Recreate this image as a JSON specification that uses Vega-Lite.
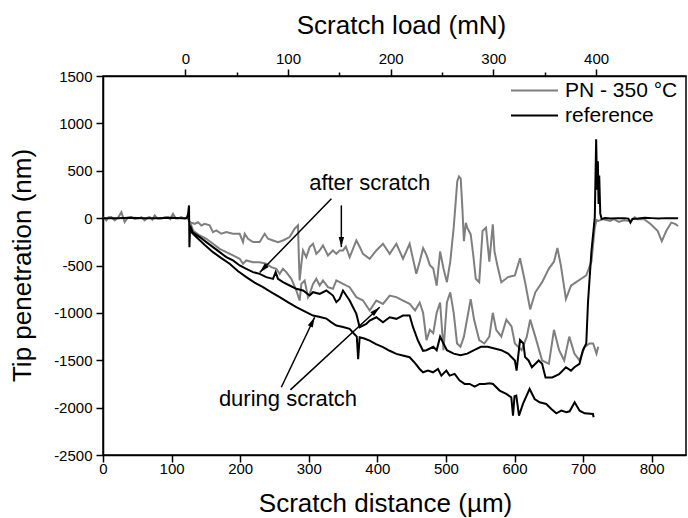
{
  "$schema": "https://vega.github.io/schema/vega-lite/v6.json",
  "width": 583,
  "height": 379,
  "autosize": {"type": "none"},
  "padding": {"left": 103, "top": 76, "right": 2, "bottom": 63},
  "background": "white",
  "config": {
    "view": {"stroke": "black", "strokeWidth": 1.5},
    "font": "Liberation Sans",
    "axis": {
      "domainColor": "black", "domainWidth": 1.5, "tickColor": "black", "tickWidth": 1.5,
      "labelColor": "black", "titleColor": "black", "labelFont": "Liberation Sans", "titleFont": "Liberation Sans",
      "titleFontWeight": "normal", "labelFontSize": 15, "titleFontSize": 26, "grid": false
    }
  },
  "layer": [
    {
      "layer": [
        {
          "data": {"values": [
            {"s":"PN - 350 °C","k":"after","d":0,"p":10},{"s":"PN - 350 °C","k":"after","d":4.9,"p":-24},{"s":"PN - 350 °C","k":"after","d":8,"p":10},{"s":"PN - 350 °C","k":"after","d":12.2,"p":11},{"s":"PN - 350 °C","k":"after","d":17,"p":-24},{"s":"PN - 350 °C","k":"after","d":22,"p":5},{"s":"PN - 350 °C","k":"after","d":26.8,"p":63},{"s":"PN - 350 °C","k":"after","d":31.6,"p":-42},{"s":"PN - 350 °C","k":"after","d":36,"p":5},{"s":"PN - 350 °C","k":"after","d":41.3,"p":11},{"s":"PN - 350 °C","k":"after","d":46,"p":-10},{"s":"PN - 350 °C","k":"after","d":51.1,"p":-5},{"s":"PN - 350 °C","k":"after","d":56,"p":10},{"s":"PN - 350 °C","k":"after","d":60.8,"p":-24},{"s":"PN - 350 °C","k":"after","d":65,"p":5},{"s":"PN - 350 °C","k":"after","d":68.1,"p":11},{"s":"PN - 350 °C","k":"after","d":72,"p":-15},{"s":"PN - 350 °C","k":"after","d":75.4,"p":28},{"s":"PN - 350 °C","k":"after","d":80,"p":-5},{"s":"PN - 350 °C","k":"after","d":85.1,"p":-5},{"s":"PN - 350 °C","k":"after","d":90,"p":10},{"s":"PN - 350 °C","k":"after","d":94.8,"p":11},{"s":"PN - 350 °C","k":"after","d":98,"p":-10},{"s":"PN - 350 °C","k":"after","d":102.1,"p":46},{"s":"PN - 350 °C","k":"after","d":106,"p":-5},{"s":"PN - 350 °C","k":"after","d":109.4,"p":-5},{"s":"PN - 350 °C","k":"after","d":114,"p":10},{"s":"PN - 350 °C","k":"after","d":119.1,"p":-5},{"s":"PN - 350 °C","k":"after","d":123,"p":5},{"s":"PN - 350 °C","k":"after","d":126.4,"p":-42},
            {"s":"PN - 350 °C","k":"after","d":133.7,"p":-60},{"s":"PN - 350 °C","k":"after","d":138.5,"p":-42},{"s":"PN - 350 °C","k":"after","d":143.4,"p":-77},{"s":"PN - 350 °C","k":"after","d":148.2,"p":-60},{"s":"PN - 350 °C","k":"after","d":155.5,"p":-77},{"s":"PN - 350 °C","k":"after","d":160.4,"p":-148},{"s":"PN - 350 °C","k":"after","d":165.3,"p":-130},{"s":"PN - 350 °C","k":"after","d":172.5,"p":-165},{"s":"PN - 350 °C","k":"after","d":179.8,"p":-148},{"s":"PN - 350 °C","k":"after","d":189.5,"p":-165},{"s":"PN - 350 °C","k":"after","d":199.3,"p":-165},{"s":"PN - 350 °C","k":"after","d":204.1,"p":-253},{"s":"PN - 350 °C","k":"after","d":206.6,"p":-165},{"s":"PN - 350 °C","k":"after","d":211.4,"p":-218},{"s":"PN - 350 °C","k":"after","d":218.7,"p":-253},{"s":"PN - 350 °C","k":"after","d":228.4,"p":-253},{"s":"PN - 350 °C","k":"after","d":235.7,"p":-165},{"s":"PN - 350 °C","k":"after","d":240.6,"p":-218},{"s":"PN - 350 °C","k":"after","d":247.9,"p":-236},{"s":"PN - 350 °C","k":"after","d":255.1,"p":-253},{"s":"PN - 350 °C","k":"after","d":262.4,"p":-236},{"s":"PN - 350 °C","k":"after","d":272.1,"p":-200},{"s":"PN - 350 °C","k":"after","d":279.4,"p":-112},{"s":"PN - 350 °C","k":"after","d":284.3,"p":-77},{"s":"PN - 350 °C","k":"after","d":285.5,"p":-400},{"s":"PN - 350 °C","k":"after","d":286.7,"p":-658},{"s":"PN - 350 °C","k":"after","d":289.2,"p":-482},{"s":"PN - 350 °C","k":"after","d":291.6,"p":-341},{"s":"PN - 350 °C","k":"after","d":296.4,"p":-412},{"s":"PN - 350 °C","k":"after","d":301.3,"p":-306},{"s":"PN - 350 °C","k":"after","d":306.2,"p":-271},{"s":"PN - 350 °C","k":"after","d":311,"p":-377},{"s":"PN - 350 °C","k":"after","d":315.9,"p":-341},{"s":"PN - 350 °C","k":"after","d":320.7,"p":-288},{"s":"PN - 350 °C","k":"after","d":328,"p":-394},{"s":"PN - 350 °C","k":"after","d":335.3,"p":-341},{"s":"PN - 350 °C","k":"after","d":340.2,"p":-377},{"s":"PN - 350 °C","k":"after","d":345,"p":-341},{"s":"PN - 350 °C","k":"after","d":349.9,"p":-341},{"s":"PN - 350 °C","k":"after","d":354,"p":-300},{"s":"PN - 350 °C","k":"after","d":359.6,"p":-412},{"s":"PN - 350 °C","k":"after","d":369.4,"p":-236},{"s":"PN - 350 °C","k":"after","d":374,"p":-300},{"s":"PN - 350 °C","k":"after","d":379.1,"p":-377},{"s":"PN - 350 °C","k":"after","d":388.8,"p":-429},{"s":"PN - 350 °C","k":"after","d":398.5,"p":-341},{"s":"PN - 350 °C","k":"after","d":408.2,"p":-271},{"s":"PN - 350 °C","k":"after","d":418,"p":-377},{"s":"PN - 350 °C","k":"after","d":427.7,"p":-271},{"s":"PN - 350 °C","k":"after","d":437.4,"p":-429},{"s":"PN - 350 °C","k":"after","d":447.1,"p":-271},{"s":"PN - 350 °C","k":"after","d":456.8,"p":-588},{"s":"PN - 350 °C","k":"after","d":461.7,"p":-460},{"s":"PN - 350 °C","k":"after","d":466.7,"p":-316},{"s":"PN - 350 °C","k":"after","d":471.6,"p":-388},{"s":"PN - 350 °C","k":"after","d":476.6,"p":-496},{"s":"PN - 350 °C","k":"after","d":481.5,"p":-532},{"s":"PN - 350 °C","k":"after","d":486.5,"p":-712},{"s":"PN - 350 °C","k":"after","d":491.5,"p":-352},{"s":"PN - 350 °C","k":"after","d":496.4,"p":-532},{"s":"PN - 350 °C","k":"after","d":501.4,"p":-676},{"s":"PN - 350 °C","k":"after","d":506.3,"p":-460},{"s":"PN - 350 °C","k":"after","d":511.3,"p":-101},{"s":"PN - 350 °C","k":"after","d":514,"p":150},{"s":"PN - 350 °C","k":"after","d":516.5,"p":390},{"s":"PN - 350 °C","k":"after","d":519,"p":440},{"s":"PN - 350 °C","k":"after","d":521.5,"p":420},{"s":"PN - 350 °C","k":"after","d":524,"p":100},{"s":"PN - 350 °C","k":"after","d":526.2,"p":-244},{"s":"PN - 350 °C","k":"after","d":529,"p":-50},{"s":"PN - 350 °C","k":"after","d":531,"p":-100},{"s":"PN - 350 °C","k":"after","d":536.1,"p":-172},{"s":"PN - 350 °C","k":"after","d":540,"p":-400},{"s":"PN - 350 °C","k":"after","d":543.5,"p":-640},{"s":"PN - 350 °C","k":"after","d":548.5,"p":-676},{"s":"PN - 350 °C","k":"after","d":553.4,"p":-136},{"s":"PN - 350 °C","k":"after","d":558.4,"p":-101},{"s":"PN - 350 °C","k":"after","d":563.3,"p":-460},{"s":"PN - 350 °C","k":"after","d":568.3,"p":-65},{"s":"PN - 350 °C","k":"after","d":570.8,"p":-352},{"s":"PN - 350 °C","k":"after","d":575,"p":-500},{"s":"PN - 350 °C","k":"after","d":580.7,"p":-676},{"s":"PN - 350 °C","k":"after","d":590.6,"p":-622},{"s":"PN - 350 °C","k":"after","d":600.5,"p":-604},{"s":"PN - 350 °C","k":"after","d":608,"p":-424},{"s":"PN - 350 °C","k":"after","d":615.4,"p":-676},{"s":"PN - 350 °C","k":"after","d":622.8,"p":-963},{"s":"PN - 350 °C","k":"after","d":630.3,"p":-783},{"s":"PN - 350 °C","k":"after","d":640.2,"p":-676},{"s":"PN - 350 °C","k":"after","d":650.1,"p":-532},{"s":"PN - 350 °C","k":"after","d":657.5,"p":-460},{"s":"PN - 350 °C","k":"after","d":662.5,"p":-316},{"s":"PN - 350 °C","k":"after","d":667.5,"p":-496},{"s":"PN - 350 °C","k":"after","d":674.9,"p":-855},{"s":"PN - 350 °C","k":"after","d":682.3,"p":-712},{"s":"PN - 350 °C","k":"after","d":689.8,"p":-676},{"s":"PN - 350 °C","k":"after","d":697.2,"p":-640},{"s":"PN - 350 °C","k":"after","d":704.6,"p":-604},{"s":"PN - 350 °C","k":"after","d":712.1,"p":-460},{"s":"PN - 350 °C","k":"after","d":717,"p":-101},{"s":"PN - 350 °C","k":"after","d":719.5,"p":-20},{"s":"PN - 350 °C","k":"after","d":722,"p":-29},{"s":"PN - 350 °C","k":"after","d":729.4,"p":-11},{"s":"PN - 350 °C","k":"after","d":739.3,"p":-29},{"s":"PN - 350 °C","k":"after","d":745,"p":-10},{"s":"PN - 350 °C","k":"after","d":752,"p":-40},{"s":"PN - 350 °C","k":"after","d":759.2,"p":-22},{"s":"PN - 350 °C","k":"after","d":769.1,"p":-29},{"s":"PN - 350 °C","k":"after","d":775,"p":10},{"s":"PN - 350 °C","k":"after","d":779,"p":-11},{"s":"PN - 350 °C","k":"after","d":789,"p":-11},{"s":"PN - 350 °C","k":"after","d":798.8,"p":-65},{"s":"PN - 350 °C","k":"after","d":808.8,"p":-136},{"s":"PN - 350 °C","k":"after","d":814.7,"p":-244},{"s":"PN - 350 °C","k":"after","d":821.2,"p":-136},{"s":"PN - 350 °C","k":"after","d":828.6,"p":-47},{"s":"PN - 350 °C","k":"after","d":834,"p":-60},{"s":"PN - 350 °C","k":"after","d":838.5,"p":-83},
            {"s":"PN - 350 °C","k":"during","d":126.4,"p":-30},{"s":"PN - 350 °C","k":"during","d":131.2,"p":-130},{"s":"PN - 350 °C","k":"during","d":141,"p":-183},{"s":"PN - 350 °C","k":"during","d":150.7,"p":-218},{"s":"PN - 350 °C","k":"during","d":160.4,"p":-271},{"s":"PN - 350 °C","k":"during","d":170.1,"p":-324},{"s":"PN - 350 °C","k":"during","d":179.8,"p":-359},{"s":"PN - 350 °C","k":"during","d":189.5,"p":-394},{"s":"PN - 350 °C","k":"during","d":199.3,"p":-429},{"s":"PN - 350 °C","k":"during","d":204.1,"p":-482},{"s":"PN - 350 °C","k":"during","d":209,"p":-447},{"s":"PN - 350 °C","k":"during","d":218.7,"p":-465},{"s":"PN - 350 °C","k":"during","d":228.4,"p":-465},{"s":"PN - 350 °C","k":"during","d":238.1,"p":-482},{"s":"PN - 350 °C","k":"during","d":245.4,"p":-517},{"s":"PN - 350 °C","k":"during","d":252.7,"p":-535},{"s":"PN - 350 °C","k":"during","d":257.6,"p":-588},{"s":"PN - 350 °C","k":"during","d":262.4,"p":-535},{"s":"PN - 350 °C","k":"during","d":267.3,"p":-570},{"s":"PN - 350 °C","k":"during","d":274.6,"p":-641},{"s":"PN - 350 °C","k":"during","d":281.9,"p":-764},{"s":"PN - 350 °C","k":"during","d":286.7,"p":-870},{"s":"PN - 350 °C","k":"during","d":289.2,"p":-694},{"s":"PN - 350 °C","k":"during","d":294,"p":-658},{"s":"PN - 350 °C","k":"during","d":298.9,"p":-834},{"s":"PN - 350 °C","k":"during","d":301.3,"p":-799},{"s":"PN - 350 °C","k":"during","d":306.2,"p":-694},{"s":"PN - 350 °C","k":"during","d":311,"p":-641},{"s":"PN - 350 °C","k":"during","d":315.9,"p":-711},{"s":"PN - 350 °C","k":"during","d":320.7,"p":-658},{"s":"PN - 350 °C","k":"during","d":328,"p":-729},{"s":"PN - 350 °C","k":"during","d":335.3,"p":-746},{"s":"PN - 350 °C","k":"during","d":340.2,"p":-658},{"s":"PN - 350 °C","k":"during","d":345,"p":-676},{"s":"PN - 350 °C","k":"during","d":349.9,"p":-694},{"s":"PN - 350 °C","k":"during","d":359.6,"p":-729},{"s":"PN - 350 °C","k":"during","d":369.4,"p":-834},{"s":"PN - 350 °C","k":"during","d":379.1,"p":-870},{"s":"PN - 350 °C","k":"during","d":388.8,"p":-975},{"s":"PN - 350 °C","k":"during","d":398.5,"p":-870},{"s":"PN - 350 °C","k":"during","d":408.2,"p":-905},{"s":"PN - 350 °C","k":"during","d":418,"p":-817},{"s":"PN - 350 °C","k":"during","d":427.7,"p":-834},{"s":"PN - 350 °C","k":"during","d":437.4,"p":-870},{"s":"PN - 350 °C","k":"during","d":447.1,"p":-905},{"s":"PN - 350 °C","k":"during","d":455,"p":-975},{"s":"PN - 350 °C","k":"during","d":461.7,"p":-891},{"s":"PN - 350 °C","k":"during","d":466.7,"p":-999},{"s":"PN - 350 °C","k":"during","d":471.6,"p":-1287},{"s":"PN - 350 °C","k":"during","d":476.6,"p":-1179},{"s":"PN - 350 °C","k":"during","d":481.5,"p":-1215},{"s":"PN - 350 °C","k":"during","d":486.5,"p":-999},{"s":"PN - 350 °C","k":"during","d":491.5,"p":-891},{"s":"PN - 350 °C","k":"during","d":496.4,"p":-1394},{"s":"PN - 350 °C","k":"during","d":501.4,"p":-891},{"s":"PN - 350 °C","k":"during","d":506.3,"p":-783},{"s":"PN - 350 °C","k":"during","d":511.3,"p":-999},{"s":"PN - 350 °C","k":"during","d":516.2,"p":-1323},{"s":"PN - 350 °C","k":"during","d":521.2,"p":-1358},{"s":"PN - 350 °C","k":"during","d":526.2,"p":-1251},{"s":"PN - 350 °C","k":"during","d":536.1,"p":-855},{"s":"PN - 350 °C","k":"during","d":541,"p":-1071},{"s":"PN - 350 °C","k":"during","d":548.5,"p":-1287},{"s":"PN - 350 °C","k":"during","d":555.9,"p":-1323},{"s":"PN - 350 °C","k":"during","d":563.3,"p":-1251},{"s":"PN - 350 °C","k":"during","d":568.3,"p":-999},{"s":"PN - 350 °C","k":"during","d":573.3,"p":-1179},{"s":"PN - 350 °C","k":"during","d":580.7,"p":-1251},{"s":"PN - 350 °C","k":"during","d":588.1,"p":-1071},{"s":"PN - 350 °C","k":"during","d":595.6,"p":-1143},{"s":"PN - 350 °C","k":"during","d":600.5,"p":-1323},{"s":"PN - 350 °C","k":"during","d":610.4,"p":-1394},{"s":"PN - 350 °C","k":"during","d":617.9,"p":-1251},{"s":"PN - 350 °C","k":"during","d":622.8,"p":-1071},{"s":"PN - 350 °C","k":"during","d":630.3,"p":-1251},{"s":"PN - 350 °C","k":"during","d":640.2,"p":-1502},{"s":"PN - 350 °C","k":"during","d":650.1,"p":-1538},{"s":"PN - 350 °C","k":"during","d":657.5,"p":-1179},{"s":"PN - 350 °C","k":"during","d":665,"p":-1394},{"s":"PN - 350 °C","k":"during","d":672.4,"p":-1502},{"s":"PN - 350 °C","k":"during","d":679.8,"p":-1251},{"s":"PN - 350 °C","k":"during","d":687.3,"p":-1430},{"s":"PN - 350 °C","k":"during","d":694.7,"p":-1502},{"s":"PN - 350 °C","k":"during","d":702.2,"p":-1358},{"s":"PN - 350 °C","k":"during","d":709.6,"p":-1323},{"s":"PN - 350 °C","k":"during","d":714.6,"p":-1323},{"s":"PN - 350 °C","k":"during","d":719.5,"p":-1430},{"s":"PN - 350 °C","k":"during","d":722,"p":-1358},
            {"s":"reference","k":"after","d":0,"p":0},{"s":"reference","k":"after","d":20,"p":0},{"s":"reference","k":"after","d":40,"p":5},{"s":"reference","k":"after","d":60,"p":0},{"s":"reference","k":"after","d":80,"p":0},{"s":"reference","k":"after","d":100,"p":5},{"s":"reference","k":"after","d":115,"p":0},{"s":"reference","k":"after","d":122,"p":0},{"s":"reference","k":"after","d":124,"p":40},{"s":"reference","k":"after","d":125.4,"p":134},{"s":"reference","k":"after","d":126,"p":-306},{"s":"reference","k":"after","d":127,"p":-80},{"s":"reference","k":"after","d":131,"p":-150},{"s":"reference","k":"after","d":141,"p":-200},{"s":"reference","k":"after","d":150.7,"p":-253},{"s":"reference","k":"after","d":160.4,"p":-306},{"s":"reference","k":"after","d":170.1,"p":-359},{"s":"reference","k":"after","d":179.8,"p":-412},{"s":"reference","k":"after","d":189.5,"p":-447},{"s":"reference","k":"after","d":199.3,"p":-500},{"s":"reference","k":"after","d":209,"p":-535},{"s":"reference","k":"after","d":218.7,"p":-570},{"s":"reference","k":"after","d":228.4,"p":-588},{"s":"reference","k":"after","d":238.1,"p":-623},{"s":"reference","k":"after","d":247.9,"p":-641},{"s":"reference","k":"after","d":251.7,"p":-570},{"s":"reference","k":"after","d":255.1,"p":-641},{"s":"reference","k":"after","d":262.4,"p":-676},{"s":"reference","k":"after","d":272.1,"p":-711},{"s":"reference","k":"after","d":281.9,"p":-746},{"s":"reference","k":"after","d":291.6,"p":-764},{"s":"reference","k":"after","d":301.3,"p":-817},{"s":"reference","k":"after","d":306.2,"p":-782},{"s":"reference","k":"after","d":315.9,"p":-799},{"s":"reference","k":"after","d":325.6,"p":-764},{"s":"reference","k":"after","d":335.3,"p":-817},{"s":"reference","k":"after","d":340.2,"p":-887},{"s":"reference","k":"after","d":345,"p":-852},{"s":"reference","k":"after","d":349.9,"p":-764},{"s":"reference","k":"after","d":359.6,"p":-870},{"s":"reference","k":"after","d":369.4,"p":-1011},{"s":"reference","k":"after","d":374.2,"p":-1151},{"s":"reference","k":"after","d":383.9,"p":-1116},{"s":"reference","k":"after","d":388.8,"p":-1081},{"s":"reference","k":"after","d":398.5,"p":-1046},{"s":"reference","k":"after","d":408.2,"p":-1099},{"s":"reference","k":"after","d":418,"p":-1046},{"s":"reference","k":"after","d":427.7,"p":-1063},{"s":"reference","k":"after","d":437.4,"p":-1028},{"s":"reference","k":"after","d":447.1,"p":-1028},{"s":"reference","k":"after","d":452,"p":-1151},{"s":"reference","k":"after","d":459.2,"p":-1292},{"s":"reference","k":"after","d":466.6,"p":-1400},{"s":"reference","k":"after","d":471.6,"p":-1394},{"s":"reference","k":"after","d":481.5,"p":-1358},{"s":"reference","k":"after","d":486.5,"p":-1394},{"s":"reference","k":"after","d":491.5,"p":-1251},{"s":"reference","k":"after","d":496.4,"p":-1323},{"s":"reference","k":"after","d":501.4,"p":-1394},{"s":"reference","k":"after","d":511.3,"p":-1430},{"s":"reference","k":"after","d":521.2,"p":-1448},{"s":"reference","k":"after","d":531.1,"p":-1430},{"s":"reference","k":"after","d":541,"p":-1394},{"s":"reference","k":"after","d":551,"p":-1358},{"s":"reference","k":"after","d":560.9,"p":-1358},{"s":"reference","k":"after","d":570.8,"p":-1376},{"s":"reference","k":"after","d":580.7,"p":-1394},{"s":"reference","k":"after","d":590.6,"p":-1430},{"s":"reference","k":"after","d":600.5,"p":-1502},{"s":"reference","k":"after","d":603,"p":-1610},{"s":"reference","k":"after","d":608,"p":-1287},{"s":"reference","k":"after","d":612.9,"p":-1323},{"s":"reference","k":"after","d":615.4,"p":-1466},{"s":"reference","k":"after","d":620.4,"p":-1502},{"s":"reference","k":"after","d":625.3,"p":-1574},{"s":"reference","k":"after","d":635.2,"p":-1502},{"s":"reference","k":"after","d":640.2,"p":-1538},{"s":"reference","k":"after","d":645.2,"p":-1682},{"s":"reference","k":"after","d":655.1,"p":-1682},{"s":"reference","k":"after","d":665,"p":-1646},{"s":"reference","k":"after","d":674.9,"p":-1574},{"s":"reference","k":"after","d":682.3,"p":-1610},{"s":"reference","k":"after","d":687.3,"p":-1574},{"s":"reference","k":"after","d":694.7,"p":-1538},{"s":"reference","k":"after","d":699.7,"p":-1394},{"s":"reference","k":"after","d":704.6,"p":-1323},{"s":"reference","k":"after","d":707.1,"p":-891},{"s":"reference","k":"after","d":712.1,"p":-352},{"s":"reference","k":"after","d":717,"p":7},{"s":"reference","k":"after","d":719,"p":832},{"s":"reference","k":"after","d":720.5,"p":300},{"s":"reference","k":"after","d":721.5,"p":600},{"s":"reference","k":"after","d":722.5,"p":150},{"s":"reference","k":"after","d":723.5,"p":450},{"s":"reference","k":"after","d":725,"p":50},{"s":"reference","k":"after","d":727,"p":-10},{"s":"reference","k":"after","d":732,"p":0},{"s":"reference","k":"after","d":740,"p":-5},{"s":"reference","k":"after","d":750,"p":0},{"s":"reference","k":"after","d":760,"p":0},{"s":"reference","k":"after","d":766,"p":-5},{"s":"reference","k":"after","d":769,"p":-47},{"s":"reference","k":"after","d":772,"p":-10},{"s":"reference","k":"after","d":780,"p":-5},{"s":"reference","k":"after","d":790,"p":5},{"s":"reference","k":"after","d":800,"p":0},{"s":"reference","k":"after","d":810,"p":-5},{"s":"reference","k":"after","d":820,"p":0},{"s":"reference","k":"after","d":838.5,"p":0},
            {"s":"reference","k":"during","d":126.4,"p":-130},{"s":"reference","k":"during","d":136.1,"p":-200},{"s":"reference","k":"during","d":148,"p":-280},{"s":"reference","k":"during","d":160.4,"p":-359},{"s":"reference","k":"during","d":172,"p":-420},{"s":"reference","k":"during","d":184.7,"p":-482},{"s":"reference","k":"during","d":197,"p":-560},{"s":"reference","k":"during","d":209,"p":-623},{"s":"reference","k":"during","d":221,"p":-680},{"s":"reference","k":"during","d":233.3,"p":-729},{"s":"reference","k":"during","d":245,"p":-780},{"s":"reference","k":"during","d":257.6,"p":-834},{"s":"reference","k":"during","d":270,"p":-890},{"s":"reference","k":"during","d":281.9,"p":-940},{"s":"reference","k":"during","d":294,"p":-985},{"s":"reference","k":"during","d":306.2,"p":-1028},{"s":"reference","k":"during","d":315,"p":-1040},{"s":"reference","k":"during","d":325.6,"p":-1060},{"s":"reference","k":"during","d":333,"p":-1100},{"s":"reference","k":"during","d":340.2,"p":-1134},{"s":"reference","k":"during","d":350,"p":-1150},{"s":"reference","k":"during","d":359.6,"p":-1169},{"s":"reference","k":"during","d":366,"p":-1220},{"s":"reference","k":"during","d":370,"p":-1250},{"s":"reference","k":"during","d":372,"p":-1490},{"s":"reference","k":"during","d":374.2,"p":-1257},{"s":"reference","k":"during","d":381,"p":-1270},{"s":"reference","k":"during","d":388.8,"p":-1292},{"s":"reference","k":"during","d":398,"p":-1330},{"s":"reference","k":"during","d":408.2,"p":-1362},{"s":"reference","k":"during","d":418,"p":-1400},{"s":"reference","k":"during","d":427.7,"p":-1433},{"s":"reference","k":"during","d":437,"p":-1450},{"s":"reference","k":"during","d":447.1,"p":-1468},{"s":"reference","k":"during","d":455,"p":-1530},{"s":"reference","k":"during","d":461.7,"p":-1592},{"s":"reference","k":"during","d":466.6,"p":-1627},{"s":"reference","k":"during","d":473.8,"p":-1609},{"s":"reference","k":"during","d":481.1,"p":-1627},{"s":"reference","k":"during","d":488.4,"p":-1592},{"s":"reference","k":"during","d":493.3,"p":-1662},{"s":"reference","k":"during","d":500.6,"p":-1609},{"s":"reference","k":"during","d":505.4,"p":-1662},{"s":"reference","k":"during","d":512.7,"p":-1644},{"s":"reference","k":"during","d":520,"p":-1715},{"s":"reference","k":"during","d":527.3,"p":-1750},{"s":"reference","k":"during","d":534.6,"p":-1750},{"s":"reference","k":"during","d":541.9,"p":-1778},{"s":"reference","k":"during","d":549.2,"p":-1750},{"s":"reference","k":"during","d":556.5,"p":-1750},{"s":"reference","k":"during","d":563.7,"p":-1743},{"s":"reference","k":"during","d":568.6,"p":-1750},{"s":"reference","k":"during","d":578.3,"p":-1820},{"s":"reference","k":"during","d":588,"p":-1856},{"s":"reference","k":"during","d":595.3,"p":-1891},{"s":"reference","k":"during","d":597.8,"p":-2085},{"s":"reference","k":"during","d":600,"p":-1880},{"s":"reference","k":"during","d":602.6,"p":-1873},{"s":"reference","k":"during","d":606.5,"p":-2085},{"s":"reference","k":"during","d":612.3,"p":-1961},{"s":"reference","k":"during","d":622,"p":-1803},{"s":"reference","k":"during","d":629.3,"p":-1909},{"s":"reference","k":"during","d":636.6,"p":-1944},{"s":"reference","k":"during","d":646.3,"p":-1961},{"s":"reference","k":"during","d":653.6,"p":-2014},{"s":"reference","k":"during","d":660.9,"p":-2060},{"s":"reference","k":"during","d":668.2,"p":-2032},{"s":"reference","k":"during","d":675.5,"p":-2049},{"s":"reference","k":"during","d":680.4,"p":-2039},{"s":"reference","k":"during","d":687.6,"p":-1944},{"s":"reference","k":"during","d":694.9,"p":-2032},{"s":"reference","k":"during","d":702.2,"p":-2060},{"s":"reference","k":"during","d":714.4,"p":-2067},{"s":"reference","k":"during","d":715.3,"p":-2102}
          ]},
          "mark": {"type": "line", "strokeWidth": 2, "clip": true},
          "encoding": {
            "x": {"field": "d", "type": "quantitative", "scale": {"domain": [0, 850], "nice": false, "zero": false},
              "axis": {"orient": "bottom", "title": "Scratch distance (µm)",
                "values": [0,50,100,150,200,250,300,350,400,450,500,550,600,650,700,750,800],
                "labelExpr": "datum.value % 100 === 0 ? '' + datum.value : ''",
                "tickSize": {"condition": {"test": "datum.value % 100 === 0", "value": 7}, "value": 4},
                "labelPadding": -1, "labelFlush": false, "labelOverlap": false,
                "titleX": 282, "titleY": 56, "titleBaseline": "alphabetic", "titleAlign": "center"}},
            "y": {"field": "p", "type": "quantitative", "scale": {"domain": [-2500, 1500], "nice": false, "zero": false},
              "axis": {"title": "Tip penetration (nm)",
                "values": [-2500,-2250,-2000,-1750,-1500,-1250,-1000,-750,-500,-250,0,250,500,750,1000,1250,1500],
                "labelExpr": "datum.value % 500 === 0 ? '' + datum.value : ''",
                "tickSize": {"condition": {"test": "datum.value % 500 === 0", "value": 7}, "value": 4},
                "labelPadding": 4, "labelFlush": false, "labelOverlap": false,
                "titleX": -73, "titleY": 189, "titleAngle": -90, "titleBaseline": "alphabetic", "titleAlign": "center"}},
            "color": {"field": "s", "type": "nominal", "title": null,
              "scale": {"domain": ["PN - 350 °C", "reference"], "range": ["#7f7f7f", "#000000"]},
              "legend": {"orient": "none", "legendX": 407, "legendY": 2, "symbolType": "stroke", "symbolSize": 2209,
                "symbolStrokeWidth": 2, "labelFontSize": 21, "labelFont": "Liberation Sans", "labelColor": "black",
                "labelOffset": 6, "clipHeight": 25, "rowPadding": 0, "padding": 0, "symbolOffset": 0}},
            "detail": {"field": "k", "type": "nominal"}
          }
        },
        {
          "data": {"values": [
            {"d": 388.8, "p": 293, "t": "after scratch"},
            {"d": 269.7, "p": -1986, "t": "during scratch"}
          ]},
          "mark": {"type": "text", "fontSize": 22, "font": "Liberation Sans", "align": "center", "baseline": "alphabetic", "color": "black"},
          "encoding": {
            "x": {"field": "d", "type": "quantitative", "scale": {"domain": [0, 850], "nice": false, "zero": false}},
            "y": {"field": "p", "type": "quantitative", "scale": {"domain": [-2500, 1500], "nice": false, "zero": false}},
            "text": {"field": "t"}
          }
        },
        {
          "data": {"values": [
            {"d": 333, "p": 205, "d2": 228.4, "p2": -574},
            {"d": 347.5, "p": 134, "d2": 347.5, "p2": -306},
            {"d": 260, "p": -1785, "d2": 308.6, "p2": -1046},
            {"d": 273.2, "p": -1813, "d2": 403.4, "p2": -940}
          ]},
          "mark": {"type": "rule", "strokeWidth": 1.5, "color": "black"},
          "encoding": {
            "x": {"field": "d", "type": "quantitative", "scale": {"domain": [0, 850], "nice": false, "zero": false}},
            "y": {"field": "p", "type": "quantitative", "scale": {"domain": [-2500, 1500], "nice": false, "zero": false}},
            "x2": {"field": "d2"},
            "y2": {"field": "p2"}
          }
        },
        {
          "data": {"values": [
            {"d": 333, "p": 205, "d2": 228.4, "p2": -574},
            {"d": 347.5, "p": 134, "d2": 347.5, "p2": -306},
            {"d": 260, "p": -1785, "d2": 308.6, "p2": -1046},
            {"d": 273.2, "p": -1813, "d2": 403.4, "p2": -940}
          ]},
          "transform": [
            {"calculate": "atan2((datum.d2 - datum.d) * 0.6859, (datum.p2 - datum.p) * 0.09475) * 180 / PI", "as": "a"}
          ],
          "mark": {"type": "point", "shape": "M0,0 L-0.45,1.7 L0.45,1.7 Z", "filled": true, "size": 144, "color": "black", "opacity": 1, "strokeWidth": 0},
          "encoding": {
            "x": {"field": "d2", "type": "quantitative", "scale": {"domain": [0, 850], "nice": false, "zero": false}},
            "y": {"field": "p2", "type": "quantitative", "scale": {"domain": [-2500, 1500], "nice": false, "zero": false}},
            "angle": {"field": "a", "type": "quantitative", "scale": null}
          }
        }
      ]
    },
    {
      "data": {"values": [{"load": 0}]},
      "mark": {"type": "point", "opacity": 0},
      "encoding": {
        "x": {"field": "load", "type": "quantitative", "scale": {"domain": [-80.2, 487.6], "nice": false, "zero": false},
          "axis": {"orient": "top", "title": "Scratch load (mN)",
            "values": [0,50,100,150,200,250,300,350,400],
            "labelExpr": "datum.value % 100 === 0 ? '' + datum.value : ''",
            "tickSize": {"condition": {"test": "datum.value % 100 === 0", "value": 7}, "value": 4},
            "labelPadding": 3, "labelFlush": false, "labelOverlap": false,
            "titleX": 298, "titleY": -43, "titleBaseline": "alphabetic", "titleAlign": "center"}}
      }
    }
  ],
  "resolve": {"scale": {"x": "independent"}}
}
